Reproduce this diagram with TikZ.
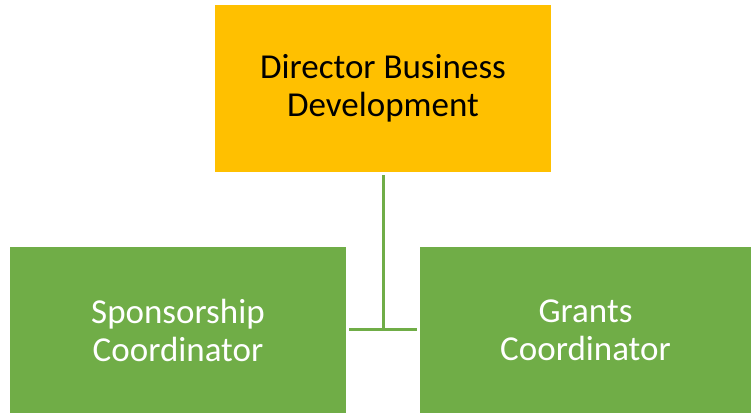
\documentclass[tikz,border=0pt]{standalone}
\usepackage{fontspec}
\setmainfont{Carlito}
\definecolor{boxorange}{HTML}{FFC000}
\definecolor{boxgreen}{HTML}{70AD47}
\begin{document}
\begin{tikzpicture}[x = 1pt, y = -1pt,
        every node/.style={rectangle, minimum width = 336pt, minimum height = 166pt, inner sep = 0pt, align=center, font=\fontsize{35}{38}\selectfont},
        link/.style={draw=boxgreen, line width = 3pt, shorten <=3pt, shorten >=3pt}
]
    \useasboundingbox (0,0) rectangle (751,413);
    \node[fill=boxorange, text=black, minimum height = 167pt] (director) at (383,88.5) {Director Business\\Development};
    \node[fill=boxgreen, text=white] (sponsor) at (178,330) {Sponsorship\\Coordinator};
    \node[fill=boxgreen, text=white, minimum width = 331pt] (grants) at (585.5,330) {Grants\\Coordinator};
    \coordinate (joint) at (383,329);
    \draw[link, shorten >=0pt] (director) -- (joint);
    \draw[link] (sponsor.east |- joint) -- (grants.west |- joint);
\end{tikzpicture}
\end{document}
